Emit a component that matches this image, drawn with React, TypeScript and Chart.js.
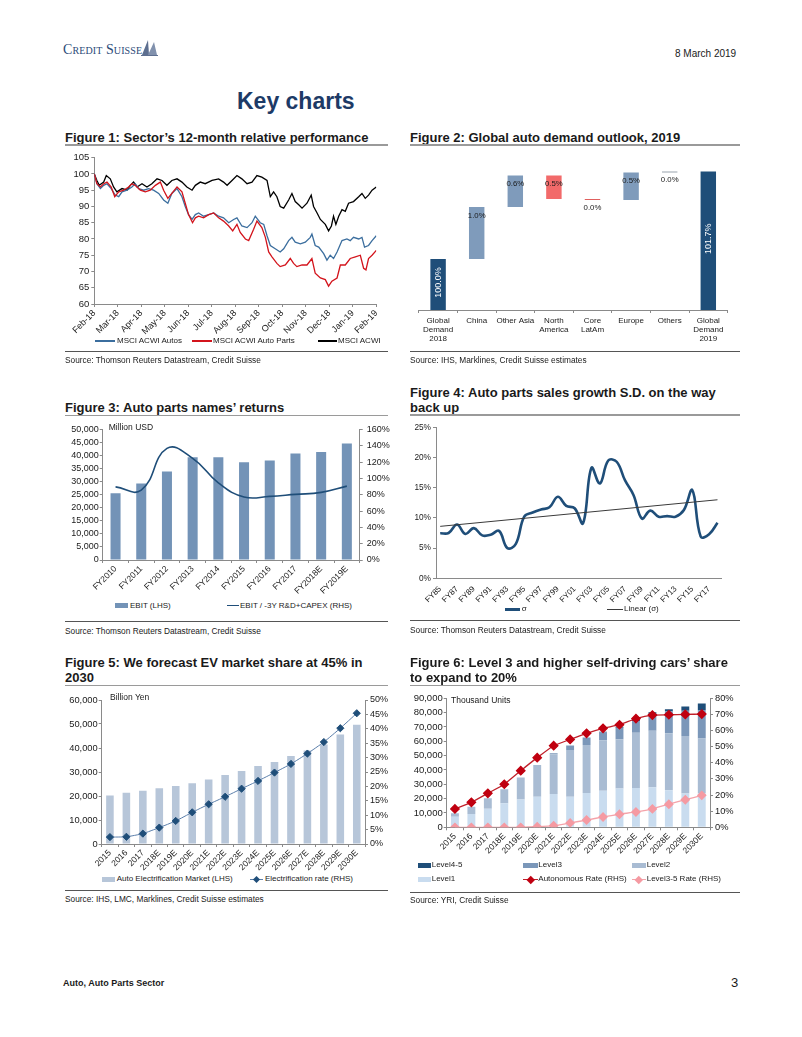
import React, { useEffect, useRef } from 'react';
import { Chart, registerables } from 'chart.js';

Chart.register(...registerables);

const FONT = '"Liberation Sans", Arial, Helvetica, sans-serif';
const AXIS = '#8a8a8a';
const TEXT = '#1a1a1a';
Chart.defaults.font.family = FONT;

// ---------------- Figure 1 data ----------------
const perfMonthLabels = ['Feb-18', 'Mar-18', 'Apr-18', 'May-18', 'Jun-18', 'Jul-18', 'Aug-18', 'Sep-18', 'Oct-18', 'Nov-18', 'Dec-18', 'Jan-19', 'Feb-19'];
const acwiMonths = [0, 0.11, 0.21, 0.4, 0.51, 0.68, 0.82, 0.96, 1.18, 1.39, 1.53, 1.67, 1.82, 2.03, 2.24, 2.45, 2.67, 2.88, 3.09, 3.3, 3.52, 3.73, 3.94, 4.16, 4.3, 4.51, 4.72, 5.01, 5.29, 5.5, 5.65, 5.86, 6.07, 6.28, 6.5, 6.71, 6.92, 7.13, 7.35, 7.49, 7.63, 7.77, 7.91, 8.06, 8.27, 8.41, 8.55, 8.7, 8.84, 9.05, 9.23, 9.33, 9.48, 9.62, 9.83, 9.97, 10.09, 10.18, 10.28, 10.4, 10.54, 10.68, 10.82, 11.03, 11.25, 11.39, 11.53, 11.67, 11.82, 12];
const acwiValues = [100, 98, 96.5, 97.5, 99.5, 98.5, 96, 94.5, 95.5, 95, 96.5, 97.5, 96, 97, 96, 97, 98.5, 98, 96.5, 98, 98.5, 97.5, 96, 95, 96.5, 97.5, 97, 98, 98.5, 97.5, 96.5, 98, 99.5, 98.5, 97, 97.5, 99.5, 99, 98, 93, 94.5, 93, 90, 89.5, 92, 94, 91.5, 90.5, 89.5, 91, 93.5, 90, 88, 86, 84.5, 82.5, 84, 87, 84.5, 87, 89, 88.5, 91, 91.5, 93, 94, 92.5, 93.5, 95, 96];
const autosMonths = [0, 0.11, 0.26, 0.4, 0.54, 0.72, 0.89, 1.04, 1.18, 1.39, 1.6, 1.74, 1.89, 2.1, 2.31, 2.52, 2.74, 2.95, 3.13, 3.3, 3.52, 3.73, 3.87, 4.01, 4.16, 4.3, 4.44, 4.65, 4.87, 5.08, 5.29, 5.5, 5.72, 5.93, 6.07, 6.28, 6.5, 6.71, 6.85, 7.06, 7.21, 7.35, 7.49, 7.7, 7.91, 8.06, 8.27, 8.41, 8.55, 8.77, 8.98, 9.19, 9.26, 9.4, 9.55, 9.76, 9.9, 10.04, 10.18, 10.33, 10.54, 10.75, 10.89, 11.03, 11.25, 11.39, 11.5, 11.67, 11.82, 12];
const autosValues = [100, 97, 95.5, 96.5, 97, 95.5, 93.5, 93, 94.5, 95, 96, 97, 95.5, 95, 95.5, 95, 94, 92, 91, 94, 95.5, 93, 90, 87.5, 86, 87.5, 88, 87, 87.5, 88, 87, 86.5, 85, 86, 86.5, 84, 83.5, 85, 87, 85, 84.5, 81, 78, 77, 76, 77, 79.5, 80.5, 79, 78.5, 79, 80.5, 81.5, 78, 77.5, 75.5, 73.5, 75, 74, 76, 79.5, 80, 79.5, 80.5, 80, 80.5, 77.5, 78, 79.5, 81];
const partsMonths = [0, 0.11, 0.26, 0.4, 0.54, 0.72, 0.87, 1.04, 1.25, 1.46, 1.6, 1.74, 1.96, 2.17, 2.38, 2.6, 2.81, 2.95, 3.13, 3.3, 3.52, 3.73, 3.87, 4.01, 4.18, 4.3, 4.44, 4.65, 4.87, 5.08, 5.29, 5.5, 5.72, 5.89, 6.07, 6.21, 6.43, 6.57, 6.78, 6.92, 7.13, 7.28, 7.42, 7.56, 7.77, 7.91, 8.13, 8.34, 8.48, 8.62, 8.84, 9.05, 9.26, 9.4, 9.62, 9.83, 9.97, 10.11, 10.33, 10.47, 10.68, 10.89, 11.11, 11.32, 11.46, 11.56, 11.67, 11.82, 12];
const partsValues = [100, 97, 96, 97, 97.5, 96, 93, 94.5, 95, 96, 97, 96.5, 95, 94.5, 95, 96.5, 97.5, 95, 92.5, 94, 96, 94.5, 91, 87.5, 85, 86.5, 87, 86.5, 87.5, 88, 86.5, 85.5, 84, 82.5, 84.5, 82, 80, 79.5, 83, 85.5, 83.5, 80.5, 76, 74.5, 72.5, 71.5, 72, 74, 72.5, 71.5, 72, 72, 74, 69.5, 68, 67.5, 65.5, 67, 68, 72, 72, 74, 74.5, 75, 71, 70.5, 74, 75, 76.5];

// ---------------- Figure 2 data ----------------
const demandLabels = [['Global', 'Demand', '2018'], 'China', 'Other Asia', ['North', 'America'], ['Core', 'LatAm'], 'Europe', 'Others', ['Global', 'Demand', '2019']];
const demandStart = 100.0;
const demandChanges = [1.02, 0.62, -0.46, -0.02, 0.54, 0.02];
const demandAxisMin = 99;
const demandAxisMax = 102;
const demandColors = ['#1f4e79', '#7f9bbb', '#7f9bbb', '#f26a6a', '#e0605e', '#7f9bbb', '#9aa4ae', '#1f4e79'];

// ---------------- Figure 3 data ----------------
const fyLabels3 = ['FY2010', 'FY2011', 'FY2012', 'FY2013', 'FY2014', 'FY2015', 'FY2016', 'FY2017', 'FY2018E', 'FY2019E'];
const ebitValues = [25600, 29300, 33900, 39300, 39300, 37400, 38100, 40800, 41300, 44600];
const returnValues = [89.6, 85.6, 136.7, 124.6, 94.5, 77.2, 78, 80.4, 82.8, 90.5];

// ---------------- Figure 4 data ----------------
const fyLabels4 = ['FY85', 'FY86', 'FY87', 'FY88', 'FY89', 'FY90', 'FY91', 'FY92', 'FY93', 'FY94', 'FY95', 'FY96', 'FY97', 'FY98', 'FY99', 'FY00', 'FY01', 'FY02', 'FY03', 'FY04', 'FY05', 'FY06', 'FY07', 'FY08', 'FY09', 'FY10', 'FY11', 'FY12', 'FY13', 'FY14', 'FY15', 'FY16', 'FY17', 'FY18'];
const sigmaValues = [7.45, 7.5, 8.9, 7.35, 8.3, 7.1, 7.2, 7.85, 5.0, 5.7, 10.2, 10.9, 11.4, 11.75, 13.5, 12.0, 11.6, 9.1, 18.3, 15.7, 19.5, 19.3, 16.2, 13.8, 9.9, 11.2, 10.2, 10.3, 10.2, 11.3, 14.6, 6.9, 7.3, 9.2];
const trendStart = 8.6;
const trendEnd = 13.0;

// ---------------- Figure 5 data ----------------
const evYears = ['2015', '2016', '2017', '2018E', '2019E', '2020E', '2021E', '2022E', '2023E', '2024E', '2025E', '2026E', '2027E', '2028E', '2029E', '2030E'];
const evMarket = [20200, 21400, 22200, 23200, 24200, 25300, 26900, 28700, 30400, 32500, 34200, 36700, 39000, 41500, 45600, 49700];
const evRate = [2.4, 2.5, 3.6, 5.7, 8.0, 11.0, 13.8, 16.4, 19.2, 21.9, 24.8, 27.8, 31.4, 35.4, 40.2, 45.4];

// ---------------- Figure 6 data ----------------
const adYears = ['2015', '2016', '2017', '2018E', '2019E', '2020E', '2021E', '2022E', '2023E', '2024E', '2025E', '2026E', '2027E', '2028E', '2029E', '2030E'];
const level1 = [7400, 9300, 13000, 16700, 19400, 21400, 23300, 21400, 24000, 25500, 27000, 27500, 27900, 25800, 23500, 24000];
const level2 = [2400, 5100, 7200, 9800, 15300, 22100, 27600, 32600, 33400, 35200, 34400, 38500, 39500, 39800, 40200, 37900];
const level3 = [0, 0, 0, 0, 0, 0, 700, 3000, 5200, 5500, 8000, 7800, 11800, 15300, 17700, 20000];
const level45 = [0, 0, 0, 0, 0, 0, 0, 0, 0, 500, 800, 1500, 1000, 1400, 2800, 4400];
const autonomousRate = [11.4, 15.5, 21.1, 26.7, 35.1, 43.2, 50.6, 54.5, 58.3, 61.4, 63.6, 67.4, 69.6, 69.8, 70.0, 70.2];
const level35Rate = [0, 0, 0, 0, 0, 0.4, 1.0, 2.7, 4.5, 6.4, 8.1, 9.5, 11.4, 14.3, 17.1, 19.8];

// ---------------- helpers ----------------
const num = (v: number) => v.toLocaleString('en-US');
const pct = (v: number) => `${v}%`;

function valueAxis(o: { position: 'left' | 'right'; min: number; max: number; step: number; width: number; size: number; fmt: (v: number) => string; pad?: number; stacked?: boolean }) {
  return {
    type: 'linear',
    position: o.position,
    min: o.min,
    max: o.max,
    stacked: o.stacked,
    border: { display: true, color: AXIS, width: 1 },
    grid: { display: true, drawOnChartArea: false, drawTicks: true, tickLength: 3, color: AXIS, lineWidth: 1 },
    ticks: { stepSize: o.step, color: TEXT, font: { family: FONT, size: o.size }, padding: o.pad ?? 2, autoSkip: false, callback: (v: any) => o.fmt(Number(v)) },
    afterFit: (s: any) => { s.width = o.width; },
  };
}

function catAxis(o: { height: number; size: number; rotate: boolean; marks?: boolean; callback?: any; lineHeight?: number; stacked?: boolean; pad?: number }) {
  const ticks: any = {
    color: TEXT,
    font: { family: FONT, size: o.size, lineHeight: o.lineHeight ?? 1.2 },
    autoSkip: false,
    maxRotation: o.rotate ? 45 : 0,
    minRotation: o.rotate ? 45 : 0,
    padding: o.pad ?? 1,
  };
  if (o.callback) ticks.callback = o.callback;
  return {
    type: 'category',
    offset: true,
    stacked: o.stacked,
    border: { display: true, color: AXIS, width: 1 },
    grid: { display: o.marks !== false, drawOnChartArea: false, drawTicks: true, tickLength: 3, color: AXIS, offset: true },
    ticks,
    afterFit: (s: any) => { s.height = o.height; },
  };
}

const baseOptions = (padding: any) => ({
  responsive: false,
  animation: false,
  events: [],
  layout: { padding },
  plugins: { legend: { display: false }, tooltip: { enabled: false } },
});

// ---------------- chart configs ----------------
function makeFig1(): any {
  const pts = (xs: number[], ys: number[]) => xs.map((x, i) => ({ x, y: ys[i] }));
  return {
    type: 'line',
    data: {
      datasets: [
        { label: 'MSCI ACWI Auto Parts', data: pts(partsMonths, partsValues), borderColor: '#d3141c', borderWidth: 1.3, pointRadius: 0, tension: 0 },
        { label: 'MSCI ACWI Autos', data: pts(autosMonths, autosValues), borderColor: '#3b6e9e', borderWidth: 1.3, pointRadius: 0, tension: 0 },
        { label: 'MSCI ACWI', data: pts(acwiMonths, acwiValues), borderColor: '#000000', borderWidth: 1.3, pointRadius: 0, tension: 0 },
      ],
    },
    options: {
      ...baseOptions({ top: 7.3, right: 11.7, left: 0, bottom: 0 }),
      scales: {
        x: {
          type: 'linear', min: 0, max: 12, offset: false,
          border: { display: true, color: AXIS },
          grid: { display: true, drawOnChartArea: false, drawTicks: true, tickLength: 3, color: AXIS },
          ticks: { stepSize: 1, autoSkip: false, maxRotation: 45, minRotation: 45, color: TEXT, font: { family: FONT, size: 9 }, padding: 1, callback: (v: any) => perfMonthLabels[Math.round(Number(v))] },
          afterFit: (s: any) => { s.height = 34; },
        },
        y: valueAxis({ position: 'left', min: 60, max: 105, step: 5, width: 32.3, size: 9.5, fmt: (v) => String(v) }),
      },
    },
  };
}

function makeFig2(): any {
  const floats: [number, number][] = [];
  let run = demandStart;
  floats.push([demandAxisMin, run]);
  demandChanges.forEach((c) => { floats.push([run, run + c]); run += c; });
  floats.push([demandAxisMin, run]);
  const texts = [demandStart.toFixed(1) + '%', ...demandChanges.map((c) => Math.abs(c).toFixed(1) + '%'), run.toFixed(1) + '%'];
  const last = floats.length - 1;
  const labelPlugin = {
    id: 'wfLabels',
    afterDatasetsDraw(chart: any) {
      const ctx = chart.ctx;
      const meta = chart.getDatasetMeta(0);
      meta.data.forEach((el: any, i: number) => {
        const top = Math.min(el.y, el.base);
        const bot = Math.max(el.y, el.base);
        ctx.save();
        ctx.textAlign = 'center';
        ctx.textBaseline = 'middle';
        if (i === 0 || i === last) {
          ctx.font = `9px ${FONT}`;
          ctx.fillStyle = '#ffffff';
          ctx.translate(el.x, (top + bot) / 2 - 2);
          ctx.rotate(-Math.PI / 2);
          ctx.fillText(texts[i], 0, 0);
        } else {
          ctx.font = `7.8px ${FONT}`;
          ctx.fillStyle = '#1a1a1a';
          ctx.fillText(texts[i], el.x, top + 8.5);
        }
        ctx.restore();
      });
    },
  };
  return {
    type: 'bar',
    data: {
      labels: demandLabels,
      datasets: [{ data: floats, backgroundColor: demandColors, borderWidth: 0, barPercentage: 0.4, categoryPercentage: 1 }],
    },
    options: {
      ...baseOptions({ top: 7.2, right: 12.4, left: 8.8, bottom: 0 }),
      scales: {
        x: catAxis({ height: 38, size: 8, rotate: false, lineHeight: 1.16, pad: 3 }),
        y: { display: false, min: demandAxisMin, max: demandAxisMax },
      },
    },
    plugins: [labelPlugin],
  };
}

function makeFig3(): any {
  return {
    type: 'bar',
    data: {
      labels: fyLabels3,
      datasets: [
        { type: 'line', label: 'EBIT / -3Y R&D+CAPEX (RHS)', data: returnValues, yAxisID: 'y1', borderColor: '#1f4e79', borderWidth: 1.6, pointRadius: 0, tension: 0.45, order: 0 },
        { type: 'bar', label: 'EBIT (LHS)', data: ebitValues, yAxisID: 'y', backgroundColor: '#7393b7', barPercentage: 0.39, categoryPercentage: 1, order: 1 },
      ],
    },
    options: {
      ...baseOptions({ top: 7.3, right: 0, left: 0, bottom: 0 }),
      scales: {
        x: catAxis({ height: 40, size: 8.5, rotate: true }),
        y: valueAxis({ position: 'left', min: 0, max: 50000, step: 5000, width: 40.7, size: 9, fmt: num, pad: 1 }),
        y1: valueAxis({ position: 'right', min: 0, max: 160, step: 20, width: 32.3, size: 9, fmt: pct, pad: 4 }),
      },
    },
  };
}

function makeFig4(): any {
  return {
    type: 'line',
    data: {
      labels: fyLabels4,
      datasets: [
        { label: 'Linear (σ)', data: [{ x: fyLabels4[0], y: trendStart }, { x: fyLabels4[fyLabels4.length - 1], y: trendEnd }], borderColor: '#3a3a3a', borderWidth: 1, pointRadius: 0, tension: 0 },
        { label: 'σ', data: sigmaValues, borderColor: '#1f4e79', borderWidth: 2.6, pointRadius: 0, tension: 0.4 },
      ],
    },
    options: {
      ...baseOptions({ top: 7.3, right: 18.3, left: 0, bottom: 0 }),
      scales: {
        x: catAxis({ height: 26.7, size: 8, rotate: true, marks: false, callback: (_v: any, i: number) => (i % 2 === 0 ? fyLabels4[i] : '') , pad: 3}),
        y: valueAxis({ position: 'left', min: 0, max: 25, step: 5, width: 31, size: 8.3, fmt: pct, pad: 2 }),
      },
    },
  };
}

function makeFig5(): any {
  return {
    type: 'bar',
    data: {
      labels: evYears,
      datasets: [
        { type: 'line', label: 'Electrification rate (RHS)', data: evRate, yAxisID: 'y1', borderColor: '#5a7eaa', borderWidth: 1, pointStyle: 'rectRot', pointRadius: 3.6, pointBackgroundColor: '#1f4e79', pointBorderColor: '#1f4e79', tension: 0.15, order: 0 },
        { type: 'bar', label: 'Auto Electrification Market (LHS)', data: evMarket, yAxisID: 'y', backgroundColor: '#b7c6d9', barPercentage: 0.46, categoryPercentage: 1, order: 1 },
      ],
    },
    options: {
      ...baseOptions({ top: 8, right: 0, left: 0, bottom: 0 }),
      scales: {
        x: catAxis({ height: 28, size: 8.5, rotate: true }),
        y: valueAxis({ position: 'left', min: 0, max: 60000, step: 10000, width: 39.7, size: 9.3, fmt: num, pad: 1 }),
        y1: valueAxis({ position: 'right', min: 0, max: 50, step: 5, width: 27, size: 9, fmt: pct, pad: 2 }),
      },
    },
  };
}

function makeFig6(): any {
  const bar = (label: string, data: number[], color: string) => ({ type: 'bar', label, data, yAxisID: 'y', backgroundColor: color, barPercentage: 0.48, categoryPercentage: 1, order: 1 });
  return {
    type: 'bar',
    data: {
      labels: adYears,
      datasets: [
        bar('Level1', level1, '#c9dcef'),
        bar('Level2', level2, '#a9bcd3'),
        bar('Level3', level3, '#7b97b9'),
        bar('Level4-5', level45, '#1f4e79'),
        { type: 'line', label: 'Autonomous Rate (RHS)', data: autonomousRate, yAxisID: 'y1', borderColor: '#c0202a', borderWidth: 1.3, pointStyle: 'rectRot', pointRadius: 4.2, pointBackgroundColor: '#c00010', pointBorderColor: '#c00010', tension: 0.15, order: 0 },
        { type: 'line', label: 'Level3-5 Rate (RHS)', data: level35Rate, yAxisID: 'y1', borderColor: '#f4a3aa', borderWidth: 1.3, pointStyle: 'rectRot', pointRadius: 4, pointBackgroundColor: '#f59aa2', pointBorderColor: '#f59aa2', tension: 0.15, order: 0 },
      ],
    },
    options: {
      ...baseOptions({ top: 8.3, right: 0, left: 0, bottom: 0 }),
      scales: {
        x: catAxis({ height: 27.7, size: 8.5, rotate: true, stacked: true }),
        y: valueAxis({ position: 'left', min: 0, max: 90000, step: 10000, width: 41.7, size: 9.5, fmt: num, pad: 1, stacked: true }),
        y1: valueAxis({ position: 'right', min: 0, max: 80, step: 10, width: 30, size: 9.3, fmt: pct, pad: 2 }),
      },
    },
  };
}

// ---------------- components ----------------
type Box = { left: number; top: number; width: number; height: number };

function ChartCanvas({ box, make }: { box: Box; make: () => any }) {
  const ref = useRef<HTMLCanvasElement | null>(null);
  useEffect(() => {
    if (!ref.current) return;
    const chart = new Chart(ref.current, make());
    return () => chart.destroy();
  }, []);
  return (
    <canvas
      ref={ref}
      width={box.width}
      height={box.height}
      style={{ position: 'absolute', left: box.left, top: box.top, width: box.width, height: box.height }}
    />
  );
}

function Txt({ x, y, size, bold, color, family, children, lh }: { x: number; y: number; size: number; bold?: boolean; color?: string; family?: string; children: any; lh?: number }) {
  const lineH = lh ?? Math.round(size * 1.25);
  return (
    <div
      style={{
        position: 'absolute', left: x, top: y - lineH / 2, fontFamily: family ?? FONT, fontSize: size,
        lineHeight: `${lineH}px`, fontWeight: bold ? 700 : 400, color: color ?? TEXT, whiteSpace: 'nowrap',
      }}
    >
      {children}
    </div>
  );
}

function Rule({ x1, x2, y, h, color }: { x1: number; x2: number; y: number; h: number; color: string }) {
  return <div style={{ position: 'absolute', left: x1, top: y - h / 2, width: x2 - x1, height: h, background: color }} />;
}

function LineKey({ x1, x2, y, w, color, diamond }: { x1: number; x2: number; y: number; w: number; color: string; diamond?: { color: string; size: number } }) {
  return (
    <>
      <div style={{ position: 'absolute', left: x1, top: y - w / 2, width: x2 - x1, height: w, background: color }} />
      {diamond && (
        <div
          style={{
            position: 'absolute', left: (x1 + x2) / 2 - diamond.size / 2, top: y - diamond.size / 2,
            width: diamond.size, height: diamond.size, background: diamond.color, transform: 'rotate(45deg)',
          }}
        />
      )}
    </>
  );
}

function BarKey({ x1, x2, y, color }: { x1: number; x2: number; y: number; color: string }) {
  return <div style={{ position: 'absolute', left: x1, top: y - 2.5, width: x2 - x1, height: 5, background: color }} />;
}

const TITLE = 13;
const LEG = 8;
const SRC = 8.3;

export default function App() {
  return (
    <div style={{ position: 'absolute', left: 0, top: 0, width: 802, height: 1037, background: '#ffffff', overflow: 'hidden', fontFamily: FONT }}>
      {/* header */}
      <div
        style={{
          position: 'absolute', left: 63, top: 42, fontFamily: '"Liberation Serif", "DejaVu Serif", serif', fontVariant: 'small-caps',
          fontSize: 14, lineHeight: '16px', color: '#2b4a78', letterSpacing: 0.1, whiteSpace: 'nowrap',
        }}
      >
        Credit Suisse
      </div>
      <svg style={{ position: 'absolute', left: 139, top: 37 }} width={20} height={20} viewBox="0 0 20 20">
        <polygon points="3,18 9,3 10,18" fill="#5d6f90" />
        <polygon points="9,18 15,5 18,18" fill="#8191ad" />
        <rect x="2" y="18" width="17" height="1" fill="#5d6f90" />
      </svg>
      <Txt x={675} y={53} size={10}>8 March 2019</Txt>
      <Txt x={237} y={101} size={23} bold color="#1d3a66">Key charts</Txt>

      {/* Figure 1 */}
      <Txt x={65} y={137.5} size={TITLE} bold>Figure 1: Sector’s 12-month relative performance</Txt>
      <Rule x1={65} x2={388} y={145} h={1.6} color="#9a9a9a" />
      <ChartCanvas box={{ left: 62, top: 150, width: 326, height: 188 }} make={makeFig1} />
      <LineKey x1={95} x2={115} y={341} w={1.3} color="#3b6e9e" />
      <Txt x={117} y={341} size={LEG}>MSCI ACWI Autos</Txt>
      <LineKey x1={192} x2={212} y={341} w={1.3} color="#d3141c" />
      <Txt x={213} y={341} size={LEG}>MSCI ACWI Auto Parts</Txt>
      <LineKey x1={318} x2={337} y={341} w={1.3} color="#000000" />
      <Txt x={338} y={341} size={LEG}>MSCI ACWI</Txt>
      <Rule x1={65} x2={388} y={351.5} h={1} color="#555555" />
      <Txt x={65} y={360} size={SRC}>Source: Thomson Reuters Datastream, Credit Suisse</Txt>

      {/* Figure 2 */}
      <Txt x={410} y={137.5} size={TITLE} bold>Figure 2: Global auto demand outlook, 2019</Txt>
      <Rule x1={410} x2={740} y={145} h={1.6} color="#9a9a9a" />
      <ChartCanvas box={{ left: 410, top: 150, width: 330, height: 198 }} make={makeFig2} />
      <Rule x1={410} x2={740} y={351.7} h={1} color="#555555" />
      <Txt x={410} y={360} size={SRC}>Source: IHS, Marklines, Credit Suisse estimates</Txt>

      {/* Figure 3 */}
      <Txt x={65} y={408} size={TITLE} bold>Figure 3: Auto parts names’ returns</Txt>
      <Rule x1={65} x2={388} y={415.5} h={1.6} color="#9a9a9a" />
      <ChartCanvas box={{ left: 62, top: 420, width: 330, height: 180 }} make={makeFig3} />
      <Txt x={108.7} y={427.5} size={8.5}>Million USD</Txt>
      <BarKey x1={115} x2={128} y={605.7} color="#7393b7" />
      <Txt x={130} y={605.7} size={LEG}>EBIT (LHS)</Txt>
      <LineKey x1={227} x2={239} y={605.7} w={1.6} color="#1f4e79" />
      <Txt x={240} y={605.7} size={LEG}>EBIT / -3Y R&amp;D+CAPEX (RHS)</Txt>
      <Rule x1={65} x2={388} y={621.7} h={1} color="#555555" />
      <Txt x={65} y={631} size={SRC}>Source: Thomson Reuters Datastream, Credit Suisse</Txt>

      {/* Figure 4 */}
      <Txt x={410} y={392.7} size={TITLE} bold>Figure 4: Auto parts sales growth S.D. on the way</Txt>
      <Txt x={410} y={408.3} size={TITLE} bold>back up</Txt>
      <Rule x1={410} x2={740} y={415} h={1.6} color="#9a9a9a" />
      <ChartCanvas box={{ left: 405, top: 420, width: 335, height: 185 }} make={makeFig4} />
      <LineKey x1={505} x2={520} y={609.3} w={2.6} color="#1f4e79" />
      <Txt x={521.7} y={609.3} size={LEG}>σ</Txt>
      <LineKey x1={607} x2={623} y={609.3} w={1} color="#3a3a3a" />
      <Txt x={624} y={609.3} size={LEG}>Linear (σ)</Txt>
      <Rule x1={410} x2={740} y={620.7} h={1} color="#555555" />
      <Txt x={410} y={630} size={SRC}>Source: Thomson Reuters Datastream, Credit Suisse</Txt>

      {/* Figure 5 */}
      <Txt x={65} y={663.3} size={TITLE} bold>Figure 5: We forecast EV market share at 45% in</Txt>
      <Txt x={65} y={678.3} size={TITLE} bold>2030</Txt>
      <Rule x1={65} x2={388} y={685.5} h={1.6} color="#9a9a9a" />
      <ChartCanvas box={{ left: 62, top: 692, width: 330, height: 180 }} make={makeFig5} />
      <Txt x={110} y={697.5} size={8.5}>Billion Yen</Txt>
      <BarKey x1={101.7} x2={115} y={879.3} color="#b7c6d9" />
      <Txt x={116.7} y={879.3} size={LEG}>Auto Electrification Market (LHS)</Txt>
      <LineKey x1={250} x2={263} y={879.3} w={1} color="#5a7eaa" diamond={{ color: '#1f4e79', size: 5 }} />
      <Txt x={265} y={879.3} size={LEG}>Electrification rate (RHS)</Txt>
      <Rule x1={65} x2={388} y={890} h={1} color="#555555" />
      <Txt x={65} y={899} size={SRC}>Source: IHS, LMC, Marklines, Credit Suisse estimates</Txt>

      {/* Figure 6 */}
      <Txt x={410} y={663.3} size={TITLE} bold>Figure 6: Level 3 and higher self-driving cars’ share</Txt>
      <Txt x={410} y={678.3} size={TITLE} bold>to expand to 20%</Txt>
      <Rule x1={410} x2={740} y={685.5} h={1.6} color="#9a9a9a" />
      <ChartCanvas box={{ left: 405, top: 690, width: 335, height: 165 }} make={makeFig6} />
      <Txt x={451} y={700} size={8.5}>Thousand Units</Txt>
      <BarKey x1={418} x2={431} y={865} color="#1f4e79" />
      <Txt x={431.7} y={865} size={LEG}>Level4-5</Txt>
      <BarKey x1={523} x2={538} y={865} color="#7b97b9" />
      <Txt x={538.3} y={865} size={LEG}>Level3</Txt>
      <BarKey x1={632} x2={646} y={865} color="#a9bcd3" />
      <Txt x={646.7} y={865} size={LEG}>Level2</Txt>
      <BarKey x1={418} x2={431} y={879.3} color="#c9dcef" />
      <Txt x={431.7} y={879.3} size={LEG}>Level1</Txt>
      <LineKey x1={523} x2={538} y={879.3} w={1.3} color="#c0202a" diamond={{ color: '#c00010', size: 5.5 }} />
      <Txt x={538.3} y={879.3} size={LEG}>Autonomous Rate (RHS)</Txt>
      <LineKey x1={632} x2={646} y={879.3} w={1.3} color="#f4a3aa" diamond={{ color: '#f59aa2', size: 5.5 }} />
      <Txt x={646.7} y={879.3} size={LEG}>Level3-5 Rate (RHS)</Txt>
      <Rule x1={410} x2={740} y={892} h={1} color="#555555" />
      <Txt x={410} y={900} size={SRC}>Source: YRI, Credit Suisse</Txt>

      {/* footer */}
      <Txt x={63} y={983.5} size={9} bold>Auto, Auto Parts Sector</Txt>
      <Txt x={731} y={983} size={13}>3</Txt>
    </div>
  );
}
